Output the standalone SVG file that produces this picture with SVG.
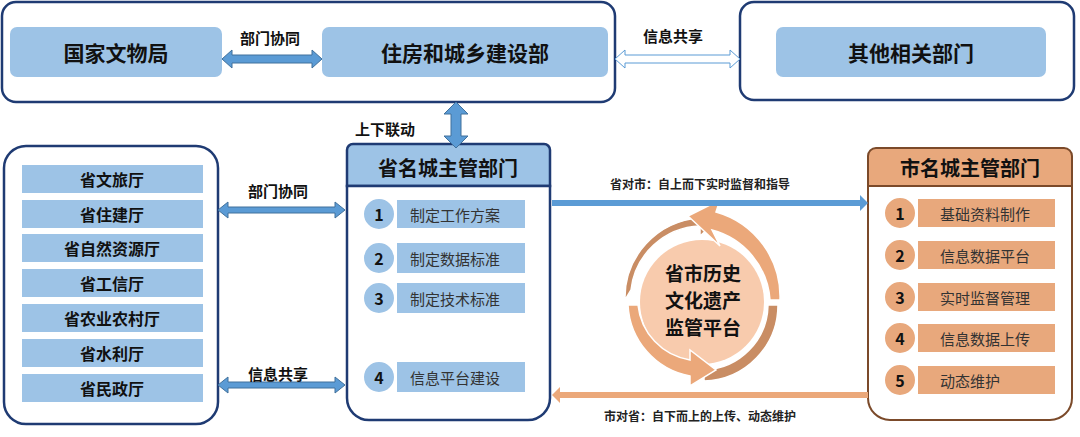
<svg xmlns="http://www.w3.org/2000/svg" width="1080" height="437" viewBox="0 0 1080 437">
<style>
text{font-family:"Noto Sans CJK SC","Liberation Sans",sans-serif;text-anchor:middle;dominant-baseline:central}
.cont{fill:#fff;stroke:#1f3b73;stroke-width:2.5}
.bn{fill:#9dc3e6}
.big{font-size:21px;font-weight:bold;fill:#111}
.plat{font-size:19px;font-weight:bold;fill:#111}
.lbl{font-size:15px;font-weight:bold;fill:#111}
.it{font-size:16px;font-weight:bold;fill:#111}
.blt{fill:#9dc3e6}
.on{fill:#e8a87c}
.txt{font-size:15px;fill:#333}
.num{font-size:16px;font-weight:bold;fill:#111}
.small{font-size:12px;font-weight:bold;fill:#222}
</style>
<g id="top-left-container"><rect class="cont" x="2" y="2" width="613" height="100" rx="14"/></g>
<g id="n-guojia"><rect class="bn" x="10" y="27" width="212" height="50" rx="7"/><text class="big" x="116" y="52">国家文物局</text></g>
<g id="n-zhufang"><rect class="bn" x="322" y="27" width="286" height="50" rx="7"/><text class="big" x="465" y="52">住房和城乡建设部</text></g>
<g id="top-right-container"><rect class="cont" x="740" y="2" width="334" height="98" rx="14"/></g>
<g id="n-qita"><rect class="bn" x="776" y="27" width="270" height="50" rx="7"/><text class="big" x="911" y="52">其他相关部门</text></g>

<g id="left-container"><rect class="cont" x="4" y="146" width="214" height="278" rx="22"/>
<rect class="bn" x="22" y="165" width="181" height="28"/><text class="it" x="112" y="179">省文旅厅</text>
<rect class="bn" x="22" y="200" width="181" height="28"/><text class="it" x="112" y="214">省住建厅</text>
<rect class="bn" x="22" y="234" width="181" height="28"/><text class="it" x="112" y="248">省自然资源厅</text>
<rect class="bn" x="22" y="269" width="181" height="28"/><text class="it" x="112" y="283">省工信厅</text>
<rect class="bn" x="22" y="304" width="181" height="28"/><text class="it" x="112" y="318">省农业农村厅</text>
<rect class="bn" x="22" y="339" width="181" height="28"/><text class="it" x="112" y="353">省水利厅</text>
<rect class="bn" x="22" y="374" width="181" height="28"/><text class="it" x="112" y="388">省民政厅</text>
</g>

<g id="province">
<path d="M347 186 V150 a6 6 0 0 1 6 -6 H544 a6 6 0 0 1 6 6 V186 Z" fill="#9dc3e6" stroke="#1f3b73" stroke-width="2.5"/>
<path d="M347 186 V398 a22 22 0 0 0 22 22 H528 a22 22 0 0 0 22 -22 V186 Z" fill="#fff" stroke="#1f3b73" stroke-width="2.5"/>
<text class="big" x="448" y="167" style="font-size:20px">省名城主管部门</text>
<rect class="blt" x="397" y="200" width="128" height="28"/><circle class="blt" cx="379" cy="214" r="16" stroke="#fff" stroke-width="2"/><text class="num" x="379" y="214">1</text><text class="txt" x="455" y="214">制定工作方案</text>
<rect class="blt" x="397" y="243" width="128" height="30"/><circle class="blt" cx="379" cy="258" r="16" stroke="#fff" stroke-width="2"/><text class="num" x="379" y="258">2</text><text class="txt" x="455" y="258">制定数据标准</text>
<rect class="blt" x="397" y="283" width="128" height="30"/><circle class="blt" cx="379" cy="298" r="16" stroke="#fff" stroke-width="2"/><text class="num" x="379" y="298">3</text><text class="txt" x="455" y="298">制定技术标准</text>
<rect class="blt" x="397" y="362" width="128" height="30"/><circle class="blt" cx="379" cy="377" r="16" stroke="#fff" stroke-width="2"/><text class="num" x="379" y="377">4</text><text class="txt" x="455" y="377">信息平台建设</text>
</g>

<g id="city">
<path d="M868 186 V156 a8 8 0 0 1 8 -8 H1064 a8 8 0 0 1 8 8 V186 Z" fill="#e8a87c" stroke="#7b4a2a" stroke-width="2"/>
<path d="M868 186 V398 a22 22 0 0 0 22 22 H1050 a22 22 0 0 0 22 -22 V186 Z" fill="#fff" stroke="#7b4a2a" stroke-width="2"/>
<text class="big" x="970" y="167" style="font-size:20px">市名城主管部门</text>
<rect class="on" x="918" y="199" width="137" height="28"/><circle class="on" cx="900" cy="213" r="16" stroke="#fff" stroke-width="2"/><text class="num" x="900" y="213">1</text><text class="txt" x="985" y="213">基础资料制作</text>
<rect class="on" x="918" y="241" width="137" height="28"/><circle class="on" cx="900" cy="255" r="16" stroke="#fff" stroke-width="2"/><text class="num" x="900" y="255">2</text><text class="txt" x="985" y="255">信息数据平台</text>
<rect class="on" x="918" y="283" width="137" height="28"/><circle class="on" cx="900" cy="297" r="16" stroke="#fff" stroke-width="2"/><text class="num" x="900" y="297">3</text><text class="txt" x="985" y="297">实时监督管理</text>
<rect class="on" x="918" y="324" width="137" height="28"/><circle class="on" cx="900" cy="338" r="16" stroke="#fff" stroke-width="2"/><text class="num" x="900" y="338">4</text><text class="txt" x="985" y="338">信息数据上传</text>
<rect class="on" x="918" y="366" width="137" height="28"/><circle class="on" cx="900" cy="380" r="16" stroke="#fff" stroke-width="2"/><text class="num" x="900" y="380">5</text><text class="txt" x="970" y="380">动态维护</text>
</g>

<g id="platform">
<circle cx="702" cy="302" r="62" fill="#f8cbad"/>
<path d="M631 290 A72 72 0 0 1 700 226 L700 236 L724 214 L700 214 L700 218 A80 80 0 0 0 625 300 Z" fill="#c98d64" stroke="#fff" stroke-width="1.5"/>
<path d="M688 216 L720 200 L716 212 A88 88 0 0 1 780 300 L770 300 A78 78 0 0 0 712 230 L720 246 Z" fill="#eba87a" stroke="#fff" stroke-width="1.5"/>
<path d="M778 305 A76 76 0 0 1 704 381 L704 370 A66 66 0 0 0 768 305 Z" fill="#c98d64" stroke="#fff" stroke-width="1.5"/>
<path d="M628 305 A76 76 0 0 0 690 376 L690 386 L716 370 L690 350 L690 360 A62 62 0 0 1 638 305 Z" fill="#eba87a" stroke="#fff" stroke-width="1.5"/>
<text class="plat" x="703" y="272">省市历史</text>
<text class="plat" x="703" y="299">文化遗产</text>
<text class="plat" x="703" y="326">监管平台</text>
</g>

<g id="connectors">
<path d="M222 59 L232 50 V55 H312 V50 L322 59 L312 68 V63 H232 V68 Z" fill="#5b9bd5" stroke="#41719c"/>
<text class="lbl" x="270" y="37">部门协同</text>
<path d="M615 59 L625 50 V55 H730 V50 L740 59 L730 68 V63 H625 V68 Z" fill="#fff" stroke="#5b9bd5"/>
<text class="lbl" x="673" y="35">信息共享</text>
<path d="M456 102 L468 114 H461 V136 H468 L456 148 L444 136 H451 V114 H444 Z" fill="#5b9bd5" stroke="#41719c"/>
<text class="lbl" x="385" y="128">上下联动</text>
<path d="M218 210 L228 202 V207 H335 V202 L345 210 L335 218 V213 H228 V218 Z" fill="#5b9bd5" stroke="#41719c"/>
<text class="lbl" x="278" y="190">部门协同</text>
<path d="M218 385 L228 377 V382 H335 V377 L345 385 L335 393 V388 H228 V393 Z" fill="#5b9bd5" stroke="#41719c"/>
<text class="lbl" x="278" y="373">信息共享</text>
<path d="M552 200 H860 V195 L868 203 L860 211 V206 H552 Z" fill="#5b9bd5"/>
<text class="small" x="700" y="183">省对市：自上而下实时监督和指导</text>
<path d="M868 392 H560 V387 L552 395 L560 403 V398 H868 Z" fill="#eba87a"/>
<text class="small" x="700" y="415">市对省：自下而上的上传、动态维护</text>
</g>
</svg>
